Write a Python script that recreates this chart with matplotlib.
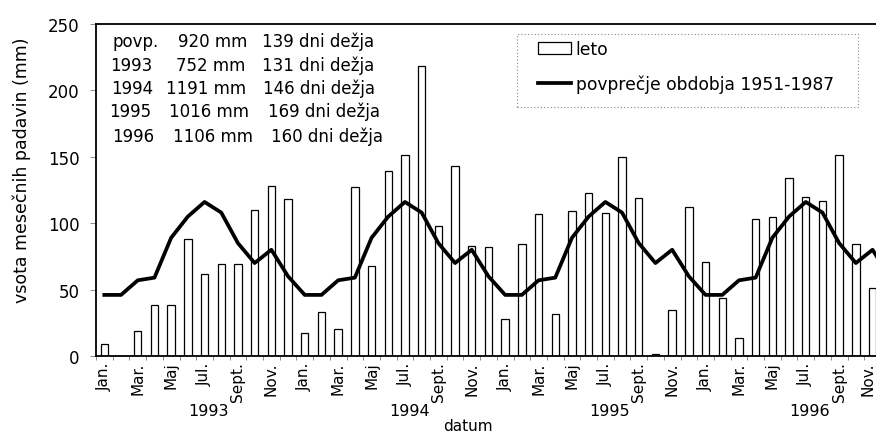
import matplotlib
matplotlib.use("Agg")
import matplotlib.pyplot as plt
from matplotlib.patches import Rectangle
from matplotlib.lines import Line2D
from matplotlib.transforms import ScaledTranslation
import numpy as np

plt.rcParams['font.family'] = ['DejaVu Sans']

# ---- data ----
months = ["Jan.", "Feb.", "Mar.", "Apr.", "Maj", "Jun.", "Jul.", "Avg.", "Sept.", "Okt.", "Nov.", "Dec."]
years = ["1993", "1994", "1995", "1996"]
rain_1993 = [9, 0, 19, 38.5, 38.5, 88, 62, 69, 69, 110, 128, 118]
rain_1994 = [17.5, 33, 20, 127, 68, 139, 151, 218, 98, 143, 83, 82]
rain_1995 = [28, 84, 107, 31.5, 109, 123, 108, 150, 119, 1.5, 34.5, 112]
rain_1996 = [71, 44, 13.5, 103, 105, 134, 120, 117, 151, 84, 51, 112]
avg_1951_1987 = [46, 46, 57, 59, 89, 105, 116, 108, 85, 70, 80, 60]

info_rows = [
    ("povp.", "920 mm", "139 dni dežja"),
    ("1993", "752 mm", "131 dni dežja"),
    ("1994", "1191 mm", "146 dni dežja"),
    ("1995", "1016 mm", "169 dni dežja"),
    ("1996", "1106 mm", "160 dni dežja"),
]
yticks = [0, 50, 100, 150, 200, 250]

# ---- figure ----
W, H = 876, 435
fig = plt.figure(figsize=(W / 100, H / 100), dpi=100)
fig.patch.set_facecolor("white")

ax_left, ax_right, ax_top, ax_bot = 96, 96 + 16.7 * 48, 25, 357
ax = fig.add_axes([ax_left / W, 1 - ax_bot / H, (ax_right - ax_left) / W, (ax_bot - ax_top) / H])

rain = rain_1993 + rain_1994 + rain_1995 + rain_1996
avg = avg_1951_1987 * len(years)
x = np.arange(len(rain))

ax.bar(x, rain, width=0.44, facecolor="white", edgecolor="black", linewidth=0.9, zorder=2)
ax.plot(x, avg, color="black", linewidth=2.7, solid_joinstyle="round", zorder=3)

ax.set_xlim(-0.5, len(rain) - 0.5)
ax.set_ylim(0, 250)
ax.set_yticks(yticks)
ax.set_yticklabels([str(v) for v in yticks], fontsize=12)
ax.tick_params(axis="y", direction="out", length=4, width=0.6, color="#777777", pad=8)

major = x[::2]
ax.set_xticks(major)
labels = ax.set_xticklabels([months[i % 12] for i in major], rotation=90, va="top", ha="center", fontsize=11)
ax.set_xticks(np.arange(-0.5, len(rain), 1), minor=True)
ax.tick_params(axis="x", which="major", length=0, pad=4)
ax.tick_params(axis="x", which="minor", direction="out", length=3, width=0.6, color="#777777")
# last visible label sits at the cropped right edge: nudge it inside
labels[-1].set_transform(labels[-1].get_transform() + ScaledTranslation(-5 / 100, 0, fig.dpi_scale_trans))

for s in ["left", "bottom", "top", "right"]:
    ax.spines[s].set_linewidth(1.3)
    ax.spines[s].set_color("black")

# year labels under July of each year
for k, yr in enumerate(years):
    xi = 12 * k + 6 + 0.25
    ax.annotate(yr, xy=(xi, 0), xycoords=("data", "axes fraction"),
                xytext=(0, -(412 - ax_bot) * 0.72), textcoords="offset points",
                ha="center", va="center", fontsize=11.5)

fig.text(468 / W, 1 - 427 / H, "datum", ha="center", va="center", fontsize=11)
fig.text(22 / W, 1 - 170 / H, "vsota mesečnih padavin (mm)", rotation=90,
         ha="center", va="center", fontsize=12.5)

# info text block
row_y = [42, 66, 89, 112, 137]
col_x = [(113, 178, 262), (110, 176, 262), (111, 166, 263), (109, 169, 268), (112, 173, 271)]
for (a, b, c), yy, xs in zip(info_rows, row_y, col_x):
    for t, xx in zip((a, b, c), xs):
        fig.text(xx / W, 1 - yy / H, t, ha="left", va="center", fontsize=12)

# legend
fig.patches.append(Rectangle((517 / W, 1 - 108 / H), (858 - 517) / W, (108 - 35) / H,
                             transform=fig.transFigure, fill=False, edgecolor="#888888",
                             linestyle=(0, (1, 2)), linewidth=0.8))
handles = [Rectangle((0, 0), 1, 1, facecolor="white", edgecolor="black", linewidth=0.9),
           Line2D([0], [0], color="black", linewidth=2.7)]
leg = fig.legend(handles, ["leto", "povprečje obdobja 1951-1987"],
                 loc="upper left", bbox_to_anchor=(538 / W, 1 - 41 / H),
                 frameon=False, fontsize=12.3, borderpad=0, handlelength=1.95,
                 handletextpad=0.25, labelspacing=0.95, borderaxespad=0)

fig.savefig("out.png", dpi=100)
